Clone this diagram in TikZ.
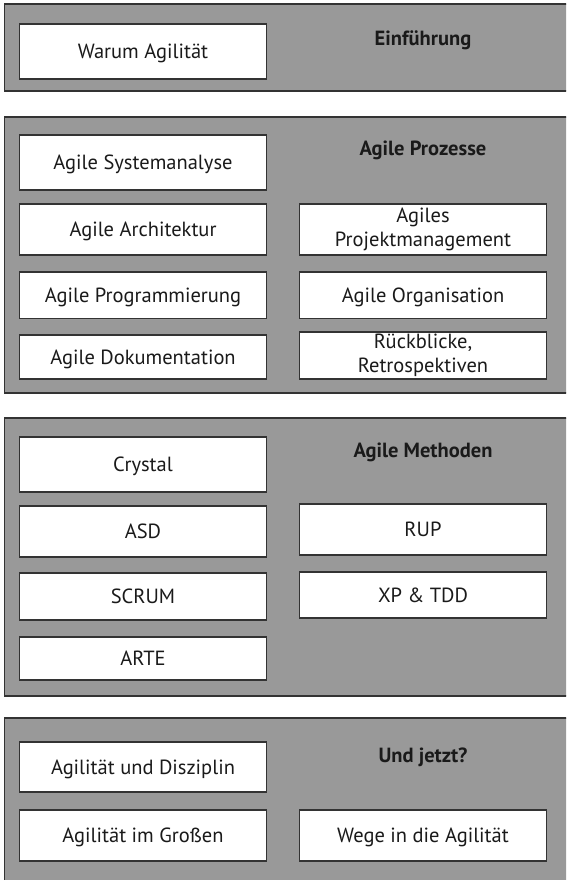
\documentclass[tikz,border=0pt]{standalone}
\usepackage{fontspec}
\setmainfont{PT Sans}
\usepackage{xcolor}
\usepackage{tikz}
\definecolor{panelgray}{HTML}{999999}
\definecolor{edge}{HTML}{333333}
\definecolor{ink}{HTML}{1A1A1A}
\tikzset{
  panel/.style={draw=edge, fill=panelgray, line width=1.4pt},
  modul/.style={draw=edge, fill=white, line width=1.2pt, minimum width=247.4pt,
    inner sep=0pt, align=center, text=ink, font=\fontsize{20.5}{24.5}\selectfont},
  oneline/.style={text height=14.4pt, text depth=0pt},
  titel/.style={anchor=base, text=ink, font=\fontsize{20.5}{24.5}\selectfont\bfseries}
}

\begin{document}
\begin{tikzpicture}[x=1pt, y=-1pt]
  \useasboundingbox (0,0) rectangle (566,880);
  \clip (0,0) rectangle (566,880);
  \fill[white] (0,0) rectangle (566,880);

  % panels
  \draw[panel] (4.5,4) rectangle (572,91);
  \draw[panel] (4.5,117) rectangle (572,393);
  \draw[panel] (4.5,418) rectangle (572,696);
  \draw[panel] (4.5,718) rectangle (572,886);

  % Einfuehrung
  \node[titel] (einf) at (423,46) {Einführung};
  \node[modul, oneline, minimum height=55pt] (warum) at (143,51.5) {Warum Agilität};

  % Agile Prozesse
  \node[titel] (proz) at (423,155) {Agile Prozesse};
  \node[modul, oneline, minimum height=55pt] (sysana) at (143,162.5) {Agile Systemanalyse};
  \node[modul, oneline, minimum height=51pt] (archi) at (143,229.5) {Agile Architektur};
  \node[modul, oneline, minimum height=46.5pt] (progr) at (143,295.25) {Agile Programmierung};
  \node[modul, oneline, minimum height=44pt] (doku) at (143,357) {Agile Dokumentation};
  \node[modul, minimum height=51pt] (projm) at (423,229.5) {Agiles\\Projektmanagement};
  \node[modul, oneline, minimum height=46.5pt] (orga) at (423,295.25) {Agile Organisation};
  \node[modul, minimum height=47pt] (rueck) at (423,355.5) {Rückblicke,\\Retrospektiven};

  % Agile Methoden
  \node[titel] (meth) at (423,457.5) {Agile Methoden};
  \node[modul, oneline, minimum height=55pt] (crystal) at (143,464.5) {Crystal};
  \node[modul, oneline, minimum height=51pt] (asd) at (143,531.5) {ASD};
  \node[modul, oneline, minimum height=47pt] (scrum) at (143,596.5) {SCRUM};
  \node[modul, oneline, minimum height=43pt] (arte) at (143,658.5) {ARTE};
  \node[modul, oneline, minimum height=51pt] (rup) at (423,529.5) {RUP};
  \node[modul, oneline, minimum height=46pt] (xptdd) at (423,595) {XP \& TDD};

  % Und jetzt?
  \node[titel] (jetzt) at (423,762.5) {Und jetzt?};
  \node[modul, oneline, minimum height=50pt] (diszi) at (143,767) {Agilität und Disziplin};
  \node[modul, oneline, minimum height=51pt] (gross) at (143,835.5) {Agilität im Großen};
  \node[modul, oneline, minimum height=51pt] (wege) at (423,835.5) {Wege in die Agilität};
\end{tikzpicture}
\end{document}
